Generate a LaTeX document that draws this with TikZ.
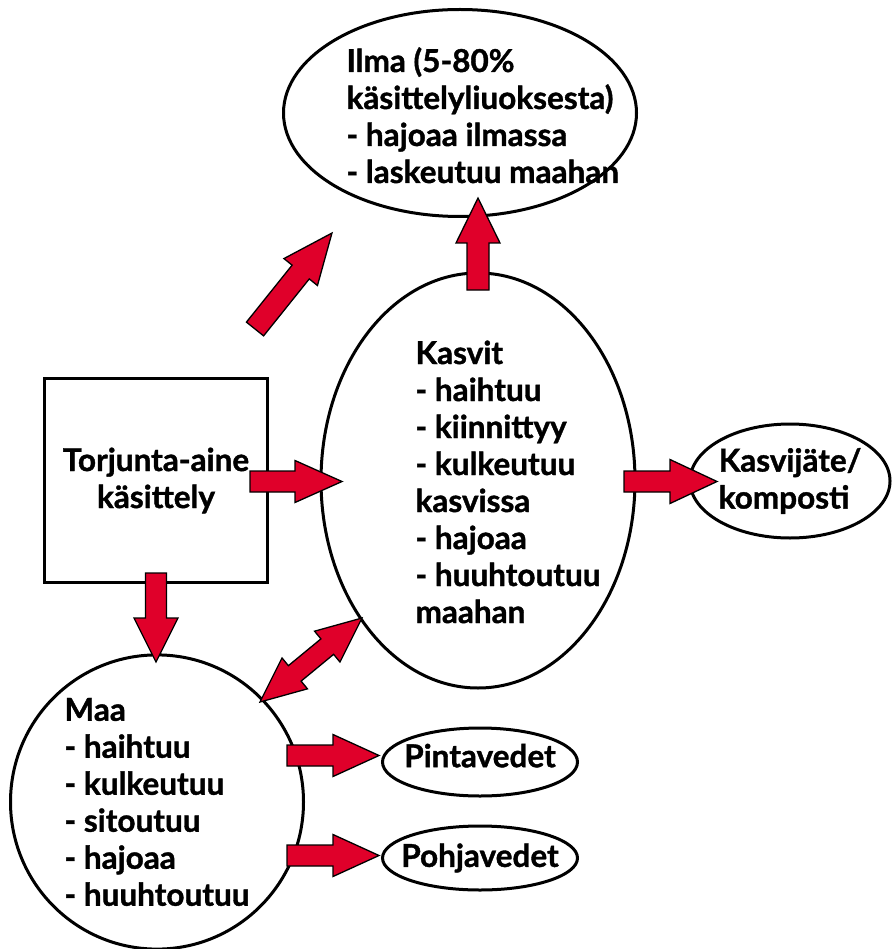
\documentclass[tikz,border=0pt]{standalone}
\usepackage{fontspec}
\setmainfont{Lato}[BoldFeatures={FakeBold=1.2}]
\usetikzlibrary{shapes.geometric}
\definecolor{arrred}{RGB}{224,0,42}
\tikzset{
  ell/.style={ellipse, draw=black, line width=3pt, fill=white, inner sep=0pt},
  boxst/.style={rectangle, draw=black, line width=3pt, fill=white, inner sep=0pt},
  txt/.style={font=\fontsize{31.5}{37}\selectfont\bfseries, align=left},
  blk/.style={fill=arrred, draw=black, line width=1.3pt, line join=miter},
}
\newcommand\blkarrow[5]{%
  \path (#1); \pgfgetlastxy{\bkXa}{\bkYa}%
  \path (#2); \pgfgetlastxy{\bkXb}{\bkYb}%
  \pgfmathsetmacro\bkAng{atan2(\bkYb-\bkYa,\bkXb-\bkXa)}%
  \pgfmathsetmacro\bkLen{veclen(\bkXb-\bkXa,\bkYb-\bkYa)}%
  \pgfmathsetmacro\bkBase{\bkLen-#5}%
  \begin{scope}[shift={(#1)}, rotate=\bkAng]
    \draw[blk] (0pt,#3pt) -- (\bkBase pt,#3pt) -- (\bkBase pt,#4pt) -- (\bkLen pt,0pt)
      -- (\bkBase pt,-#4pt) -- (\bkBase pt,-#3pt) -- (0pt,-#3pt) -- cycle;
  \end{scope}}
\newcommand\dblarrow[5]{%
  \path (#1); \pgfgetlastxy{\bkXa}{\bkYa}%
  \path (#2); \pgfgetlastxy{\bkXb}{\bkYb}%
  \pgfmathsetmacro\bkAng{atan2(\bkYb-\bkYa,\bkXb-\bkXa)}%
  \pgfmathsetmacro\bkLen{veclen(\bkXb-\bkXa,\bkYb-\bkYa)}%
  \pgfmathsetmacro\bkBase{\bkLen-#5}%
  \begin{scope}[shift={(#1)}, rotate=\bkAng]
    \draw[blk] (0pt,0pt) -- (#5pt,#4pt) -- (#5pt,#3pt) -- (\bkBase pt,#3pt) -- (\bkBase pt,#4pt)
      -- (\bkLen pt,0pt) -- (\bkBase pt,-#4pt) -- (\bkBase pt,-#3pt) -- (#5pt,-#3pt)
      -- (#5pt,-#4pt) -- cycle;
  \end{scope}}
\begin{document}
\begin{tikzpicture}[x=1pt, y=-1pt]
\useasboundingbox (0,0) rectangle (893,949);
% shapes
\node[ell, minimum width=353pt, minimum height=207pt] (ilma) at (460,113) {};
\node[txt, anchor=base west] (ilmatxt) at (343,183) {Ilma (5-80\%\\k\"asittelyliuoksesta)\\- hajoaa ilmassa\\- laskeutuu maahan};
\node[ell, minimum width=314pt, minimum height=415pt] (kasvit) at (478,480.5) {};
\node[txt, anchor=base west] (kasvittxt) at (412,623) {Kasvit\\- haihtuu\\- kiinnittyy\\- kulkeutuu\\kasvissa\\- hajoaa\\- huuhtoutuu\\maahan};
\node[boxst, minimum width=223pt, minimum height=204pt, txt, align=center] (torj) at (156,480.5) {Torjunta-aine\\k\"asittely};
\node[ell, minimum width=293pt, minimum height=290pt, txt] (maa) at (157,802) {Maa\\- haihtuu\\- kulkeutuu\\- sitoutuu\\- hajoaa\\- huuhtoutuu};
\node[ell, minimum width=200pt, minimum height=114pt, inner xsep=-8pt, txt] (kj) at (790,481) {Kasvij\"ate/\\komposti};
\node[ell, minimum width=195pt, minimum height=68pt, inner xsep=-10pt, inner ysep=-6pt, text depth=13pt, txt] (pinta) at (480,762) {Pintavedet};
\node[ell, minimum width=195pt, minimum height=64pt, inner xsep=-10pt, inner ysep=-6pt, txt] (pohja) at (480,858) {Pohjavedet};
% arrow end points
\coordinate (a1s) at (250,481.5); \coordinate (a1e) at (342,481.5);
\coordinate (a2s) at (156,573);   \coordinate (a2e) at (156,662);
\coordinate (a3s) at (255,329);   \coordinate (a3e) at (332,233);
\coordinate (a4s) at (478,290);   \coordinate (a4e) at (478,198);
\coordinate (a5s) at (624,481.5); \coordinate (a5e) at (717,481.5);
\coordinate (a6s) at (260,702);   \coordinate (a6e) at (362,618);
\coordinate (a7s) at (287,755.5); \coordinate (a7e) at (379,755.5);
\coordinate (a8s) at (287,855.5); \coordinate (a8e) at (379,855.5);
% arrows
\blkarrow{a1s}{a1e}{10.5}{21}{47}
\blkarrow{a2s}{a2e}{10.5}{22}{44}
\blkarrow{a3s}{a3e}{11}{21.5}{50}
\blkarrow{a4s}{a4e}{11}{22}{45}
\blkarrow{a5s}{a5e}{10.5}{22}{47}
\dblarrow{a6s}{a6e}{10}{20}{45}
\blkarrow{a7s}{a7e}{10.5}{21}{46}
\blkarrow{a8s}{a8e}{10.5}{21}{46}
\end{tikzpicture}
\end{document}
